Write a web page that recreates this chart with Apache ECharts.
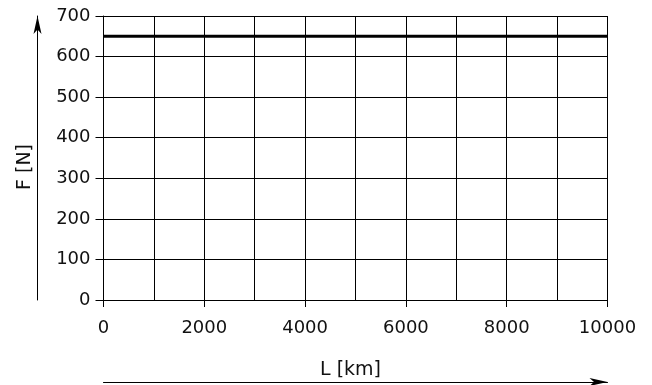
<!DOCTYPE html>
<html>
<head>
<meta charset="utf-8">
<script src="https://cdn.jsdelivr.net/npm/echarts@6/dist/echarts.min.js"></script>
<style>
html,body{margin:0;padding:0;background:#fff;}
#chart{width:652px;height:385px;}
</style>
</head>
<body>
<div id="chart"></div>
<script>
// Data
var xValues = [0, 10000];
var forceValues = [650, 650];
var xAxisTitle = 'L [km]';
var yAxisTitle = 'F [N]';
var xMin = 0, xMax = 10000, xLabelStep = 2000, xGridStep = 1000;
var yMin = 0, yMax = 700, yStep = 100;

var FONT = 'DejaVu Sans';
var chart = echarts.init(document.getElementById('chart'), null, {renderer: 'canvas'});
var lineData = xValues.map(function (x, i) { return [x, forceValues[i]]; });
var plain = function (v) { return String(v); };

chart.setOption({
  animation: false,
  backgroundColor: '#fff',
  grid: {left: 103.5, right: 44.5, top: 16, bottom: 85, containLabel: false},
  xAxis: [
    {
      type: 'value', gridIndex: 0, position: 'bottom',
      min: xMin, max: xMax, interval: xLabelStep,
      axisLine: {show: true, onZero: false, lineStyle: {color: '#000', width: 1}},
      axisTick: {show: true, inside: false, length: 7, lineStyle: {color: '#000', width: 1}},
      axisLabel: {show: true, margin: 19, color: '#111', fontFamily: FONT, fontSize: 18, formatter: plain},
      splitLine: {show: false}
    },
    {
      type: 'value', gridIndex: 0, position: 'top',
      min: xMin, max: xMax, interval: xGridStep,
      axisLine: {show: true, onZero: false, lineStyle: {color: '#000', width: 1}},
      axisTick: {show: false}, axisLabel: {show: false},
      splitLine: {show: true, lineStyle: {color: '#000', width: 1}}
    },
    {
      type: 'value', gridIndex: 0, position: 'bottom', offset: 82,
      min: xMin, max: xMax,
      axisLine: {show: true, onZero: false, symbol: ['none', 'arrow'], symbolSize: [6, 18],
        lineStyle: {color: '#000', width: 1}},
      axisTick: {show: false}, axisLabel: {show: false}, splitLine: {show: false}
    }
  ],
  yAxis: [
    {
      type: 'value', gridIndex: 0, position: 'left',
      min: yMin, max: yMax, interval: yStep,
      axisLine: {show: true, onZero: false, lineStyle: {color: '#000', width: 1}},
      axisTick: {show: true, inside: false, length: 8, lineStyle: {color: '#000', width: 1}},
      axisLabel: {show: true, margin: 13, color: '#111', fontFamily: FONT, fontSize: 18, formatter: plain},
      splitLine: {show: true, lineStyle: {color: '#000', width: 1}}
    },
    {
      type: 'value', gridIndex: 0, position: 'left', offset: 66,
      min: yMin, max: yMax,
      axisLine: {show: true, onZero: false, symbol: ['none', 'arrow'], symbolSize: [6, 18],
        lineStyle: {color: '#000', width: 1}},
      axisTick: {show: false}, axisLabel: {show: false}, splitLine: {show: false}
    }
  ],
  graphic: [
    {type: 'text', left: 320, top: 361,
      style: {text: xAxisTitle, fill: '#111', font: '19px "' + FONT + '"'}},
    {type: 'text', x: 16, y: 190, rotation: Math.PI / 2,
      style: {text: yAxisTitle, fill: '#111', font: '19px "' + FONT + '"'}}
  ],
  series: [{
    type: 'line', xAxisIndex: 0, yAxisIndex: 0,
    data: lineData, symbol: 'none',
    lineStyle: {color: '#000', width: 3}
  }]
});
</script>
</body>
</html>
